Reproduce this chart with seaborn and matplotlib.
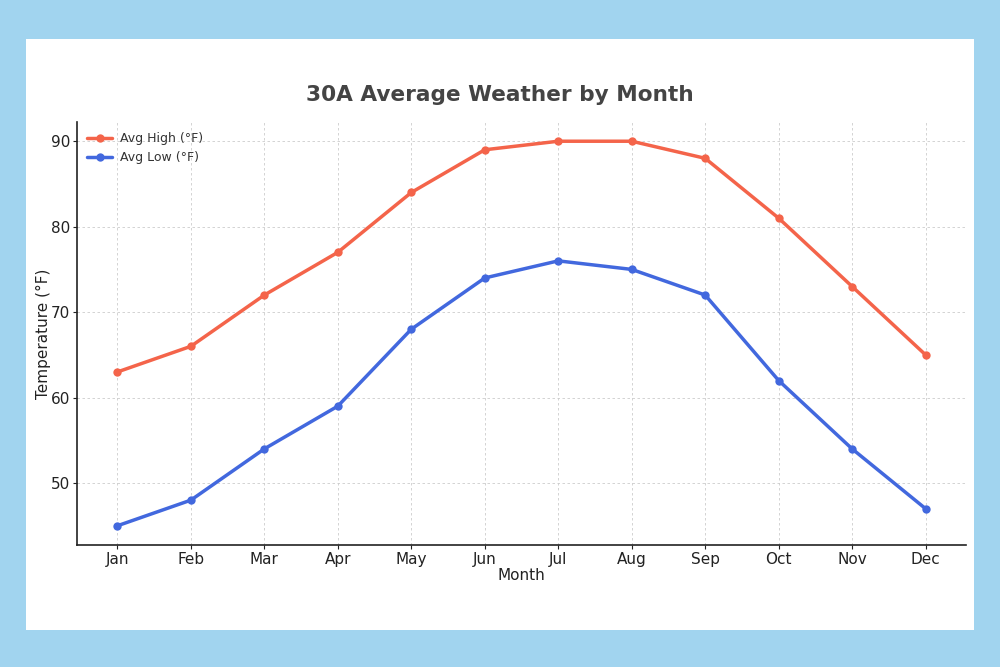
import matplotlib
matplotlib.use('Agg')
import matplotlib.pyplot as plt
import seaborn as sns
import pandas as pd
from matplotlib.patches import Rectangle

# 월별 데이터
months = ['Jan', 'Feb', 'Mar', 'Apr', 'May', 'Jun', 'Jul', 'Aug', 'Sep', 'Oct', 'Nov', 'Dec']
avg_high = [63, 66, 72, 77, 84, 89, 90, 90, 88, 81, 73, 65]
avg_low = [45, 48, 54, 59, 68, 74, 76, 75, 72, 62, 54, 47]

df = pd.DataFrame({'Month': months, 'Avg High (°F)': avg_high, 'Avg Low (°F)': avg_low})
df_long = df.melt(id_vars='Month', var_name='Series', value_name='Temp')

sns.set_style('ticks')
plt.rcParams['font.family'] = ['DejaVu Sans']

fig = plt.figure(figsize=(10, 6.67), dpi=100)
fig.patch.set_facecolor('#a1d4ef')
# 흰색 패널 (축 뒤에 그려지도록 zorder 낮춤)
fig.patches.append(Rectangle((0.026, 1 - 630 / 667), 0.948, (630 - 39) / 667,
                             transform=fig.transFigure, facecolor='white',
                             edgecolor='none', zorder=-5))

ax = fig.add_axes([0.077, 1 - 545 / 667, 0.889, (545 - 122) / 667])
ax.set_facecolor('white')

sns.lineplot(data=df_long, x='Month', y='Temp', hue='Series', marker='o',
             palette=['#f4644a', '#4268de'], linewidth=2.5, markersize=6,
             markeredgewidth=0, ax=ax, sort=False)

ax.grid(True, linestyle=(0, (3, 3)), linewidth=0.6, color='#cccccc')
ax.set_axisbelow(True)
for s in ['top', 'right']:
    ax.spines[s].set_visible(False)
for s in ['left', 'bottom']:
    ax.spines[s].set_color('#222222')
    ax.spines[s].set_linewidth(1.2)

ax.set_xlabel('Month', fontsize=11, color='#222222', labelpad=1)
ax.set_ylabel('Temperature (°F)', fontsize=11, color='#222222', labelpad=0)
ax.tick_params(labelsize=11, colors='#222222', length=3, pad=2)
ax.set_yticks([50, 60, 70, 80, 90])

ax.legend(loc='upper left', frameon=False, fontsize=9, title=None,
          handlelength=2.0, handletextpad=0.6, labelcolor='#333333',
          borderaxespad=0.4, labelspacing=0.5)

fig.text(0.5, 1 - 95 / 667, '30A Average Weather by Month', ha='center', va='center',
         fontsize=15.6, fontweight='bold', color='#444444')

fig.savefig('out.png', dpi=100, facecolor=fig.get_facecolor())
